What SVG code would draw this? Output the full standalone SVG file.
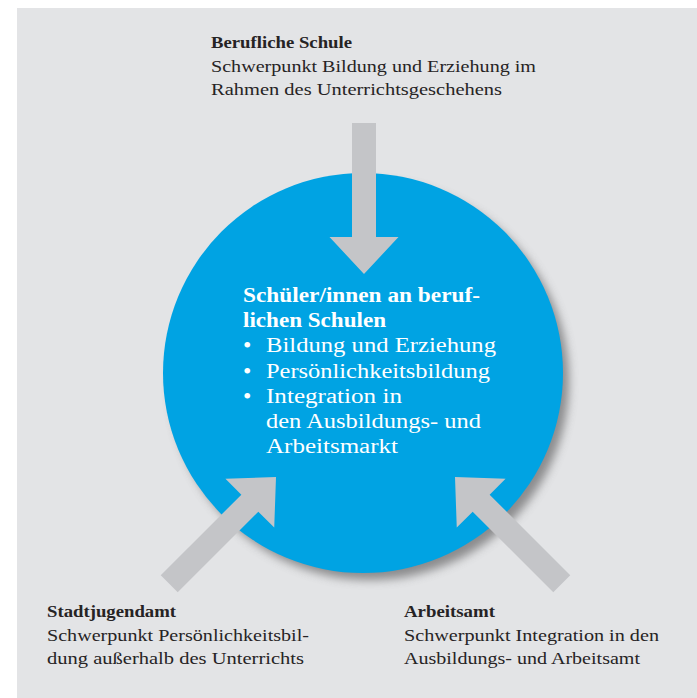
<svg xmlns="http://www.w3.org/2000/svg" xmlns:xlink="http://www.w3.org/1999/xlink" width="697" height="698" viewBox="0 0 697 698">
  <style>
    .lbl { font-size: 17px; fill: #262324; }
    .hd { font-weight: bold; }
    .ctr { font-size: 20px; fill: #ffffff; }
    .bul { font-size: 24px; }
    .arrow { fill: #c4c5c8; }
  </style>
  <defs>
    <filter id="drop" x="-20%" y="-20%" width="140%" height="140%">
      <feGaussianBlur stdDeviation="5"/>
    </filter>
    <!-- block arrow pointing along +x, tip at the origin -->
    <path id="arrowShape" d="M-151,-12 H-37 V-34.5 L0,0 L-37,34.5 V12 H-151 Z"/>
  </defs>

  <!-- panel -->
  <rect x="17" y="8" width="680" height="690" fill="#e3e4e6"/>

  <!-- central circle -->
  <g id="node-students">
    <circle cx="370" cy="381" r="199" fill="#6e6e70" opacity="0.75" filter="url(#drop)"/>
    <circle cx="363" cy="373" r="200" fill="#00a3e3"/>
    <g class="ctr" font-family="Liberation Serif, Times New Roman, serif">
      <text class="hd" x="243" y="302" textLength="237" lengthAdjust="spacingAndGlyphs">Schüler/innen an beruf-</text>
      <text class="hd" x="243" y="327" textLength="143" lengthAdjust="spacingAndGlyphs">lichen Schulen</text>
      <text class="bul" x="243" y="353">•</text>
      <text x="266" y="352" textLength="230" lengthAdjust="spacingAndGlyphs">Bildung und Erziehung</text>
      <text class="bul" x="243" y="379">•</text>
      <text x="266" y="378" textLength="224" lengthAdjust="spacingAndGlyphs">Persönlichkeitsbildung</text>
      <text class="bul" x="243" y="404">•</text>
      <text x="266" y="403" textLength="136" lengthAdjust="spacingAndGlyphs">Integration in</text>
      <text x="266" y="428" textLength="215" lengthAdjust="spacingAndGlyphs">den Ausbildungs- und</text>
      <text x="266" y="453" textLength="132" lengthAdjust="spacingAndGlyphs">Arbeitsmarkt</text>
    </g>
  </g>

  <!-- connectors -->
  <g id="connectors" class="arrow">
    <use xlink:href="#arrowShape" transform="translate(364,274) rotate(90)"/>
    <use xlink:href="#arrowShape" transform="translate(276,477) rotate(-45)"/>
    <use xlink:href="#arrowShape" transform="translate(455,477) rotate(-135)"/>
  </g>

  <g id="node-school" class="lbl" font-family="Liberation Serif, Times New Roman, serif">
    <text class="hd" x="211" y="48" textLength="141" lengthAdjust="spacingAndGlyphs">Berufliche Schule</text>
    <text x="211" y="72" textLength="325" lengthAdjust="spacingAndGlyphs">Schwerpunkt Bildung und Erziehung im</text>
    <text x="211" y="95" textLength="291" lengthAdjust="spacingAndGlyphs">Rahmen des Unterrichtsgeschehens</text>
  </g>

  <g id="node-youth-office" class="lbl" font-family="Liberation Serif, Times New Roman, serif">
    <text class="hd" x="47" y="617" textLength="129" lengthAdjust="spacingAndGlyphs">Stadtjugendamt</text>
    <text x="47" y="641" textLength="262" lengthAdjust="spacingAndGlyphs">Schwerpunkt Persönlichkeitsbil-</text>
    <text x="47" y="664" textLength="257" lengthAdjust="spacingAndGlyphs">dung außerhalb des Unterrichts</text>
  </g>

  <g id="node-employment-office" class="lbl" font-family="Liberation Serif, Times New Roman, serif">
    <text class="hd" x="404" y="617" textLength="91" lengthAdjust="spacingAndGlyphs">Arbeitsamt</text>
    <text x="404" y="641" textLength="255" lengthAdjust="spacingAndGlyphs">Schwerpunkt Integration in den</text>
    <text x="404" y="664" textLength="236" lengthAdjust="spacingAndGlyphs">Ausbildungs- und Arbeitsamt</text>
  </g>
</svg>
